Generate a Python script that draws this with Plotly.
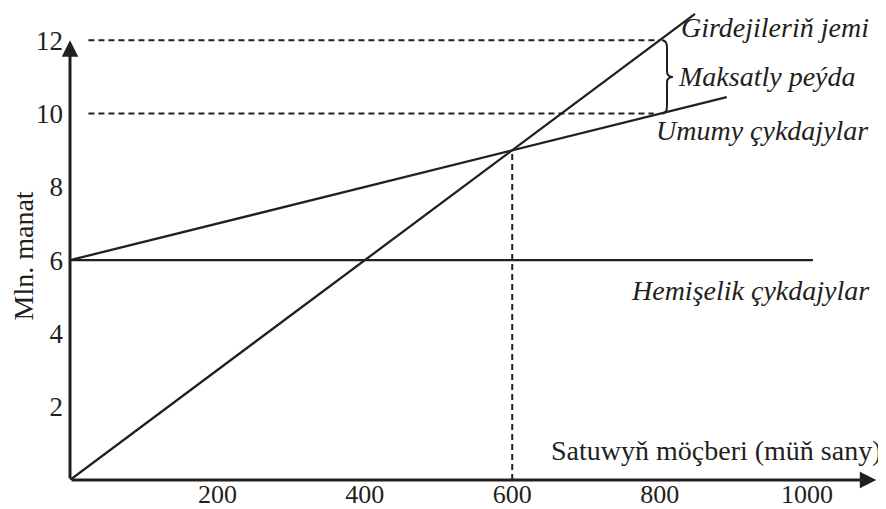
import plotly.graph_objects as go

# values
x_ticks = [200, 400, 600, 800, 1000]
y_ticks = [2, 4, 6, 8, 10, 12]

revenue_x = [0, 848]
revenue_y = [0, 12.72]
total_cost_x = [0, 891]
total_cost_y = [6, 10.45]
fixed_cost_x = [0, 1008]
fixed_cost_y = [6, 6]

breakeven_x = 600
breakeven_y = 9
target_x = 800
target_revenue = 12
target_cost = 10

FONT = "Liberation Serif"
ink = "#231f20"

fig = go.Figure()

line_style = dict(color=ink, width=2.3)
for xs, ys in [(revenue_x, revenue_y), (total_cost_x, total_cost_y), (fixed_cost_x, fixed_cost_y)]:
    fig.add_trace(go.Scatter(x=xs, y=ys, mode="lines", line=line_style,
                             showlegend=False, hoverinfo="skip", cliponaxis=False))

dash = dict(color=ink, width=2, dash="6px,4px")
# dashed guides
fig.add_trace(go.Scatter(x=[25, target_x], y=[target_revenue, target_revenue], mode="lines",
                         line=dash, showlegend=False, hoverinfo="skip"))
fig.add_trace(go.Scatter(x=[25, target_x - 8], y=[target_cost, target_cost], mode="lines",
                         line=dash, showlegend=False, hoverinfo="skip"))
fig.add_trace(go.Scatter(x=[breakeven_x, breakeven_x], y=[0, breakeven_y], mode="lines",
                         line=dash, showlegend=False, hoverinfo="skip"))

# curly brace between target revenue and target cost
b0, b1, b2 = target_x + 3, target_x + 10, target_x + 18
mid = (target_revenue + target_cost) / 2
path = (f"M {b0},{target_revenue} Q {b1},{target_revenue} {b1},{target_revenue - 0.2} "
        f"L {b1},{mid + 0.15} Q {b1},{mid} {b2},{mid} Q {b1},{mid} {b1},{mid - 0.15} "
        f"L {b1},{target_cost + 0.2} Q {b1},{target_cost} {b0},{target_cost}")
fig.add_shape(type="path", path=path, line=dict(color=ink, width=2), xref="x", yref="y")

# axes with arrows
fig.add_annotation(x=1094, y=0, ax=0, ay=0, xref="x", yref="y", axref="x", ayref="y",
                   showarrow=True, arrowhead=2, arrowsize=1.1, arrowwidth=3, arrowcolor=ink, text="")
fig.add_annotation(x=0, y=12, ax=0, ay=0, xref="x", yref="y", axref="x", ayref="y",
                   showarrow=True, arrowhead=2, arrowsize=1.1, arrowwidth=3, arrowcolor=ink, text="")

lab = dict(family=FONT, size=28, color=ink)
labels = [
    ("Girdejileriň jemi", 826, 12.36),
    ("Maksatly peýda", 822, 11.0),
    ("Umumy çykdajylar", 793, 9.55),
    ("Hemişelik çykdajylar", 759, 5.18),
]
for txt, lx, ly in labels:
    fig.add_annotation(x=lx, y=ly, text=f"<i>{txt}</i>", showarrow=False, xanchor="left",
                       yanchor="middle", font=lab)

fig.add_annotation(x=1, xref="paper", xanchor="right", xshift=4, y=0.8, yanchor="middle",
                   text="Satuwyň möçberi (müň sany)", showarrow=False, font=lab)
fig.add_annotation(x=0, xref="paper", xanchor="center", xshift=-47, y=6.1, yanchor="middle",
                   textangle=-90, text="Mln. manat", showarrow=False, font=lab)

tick_font = dict(family=FONT, size=26, color=ink)
fig.update_xaxes(range=[0, 1099], tickvals=x_ticks, showgrid=False, zeroline=False,
                 showline=False, ticks="", automargin=False, ticklabelstandoff=-4,
                 tickfont=tick_font)
fig.update_yaxes(range=[0, 12.8], tickvals=y_ticks, showgrid=False, zeroline=False,
                 showline=False, ticks="", automargin=False, ticklabelstandoff=6,
                 tickfont=dict(family=FONT, size=27, color=ink))

# page body has an 8px margin, so the figure is drawn 8px smaller
fig.update_layout(width=878, height=501, margin=dict(l=62, r=6, t=3, b=29),
                  plot_bgcolor="white", paper_bgcolor="white")

fig.write_html("out.html")
